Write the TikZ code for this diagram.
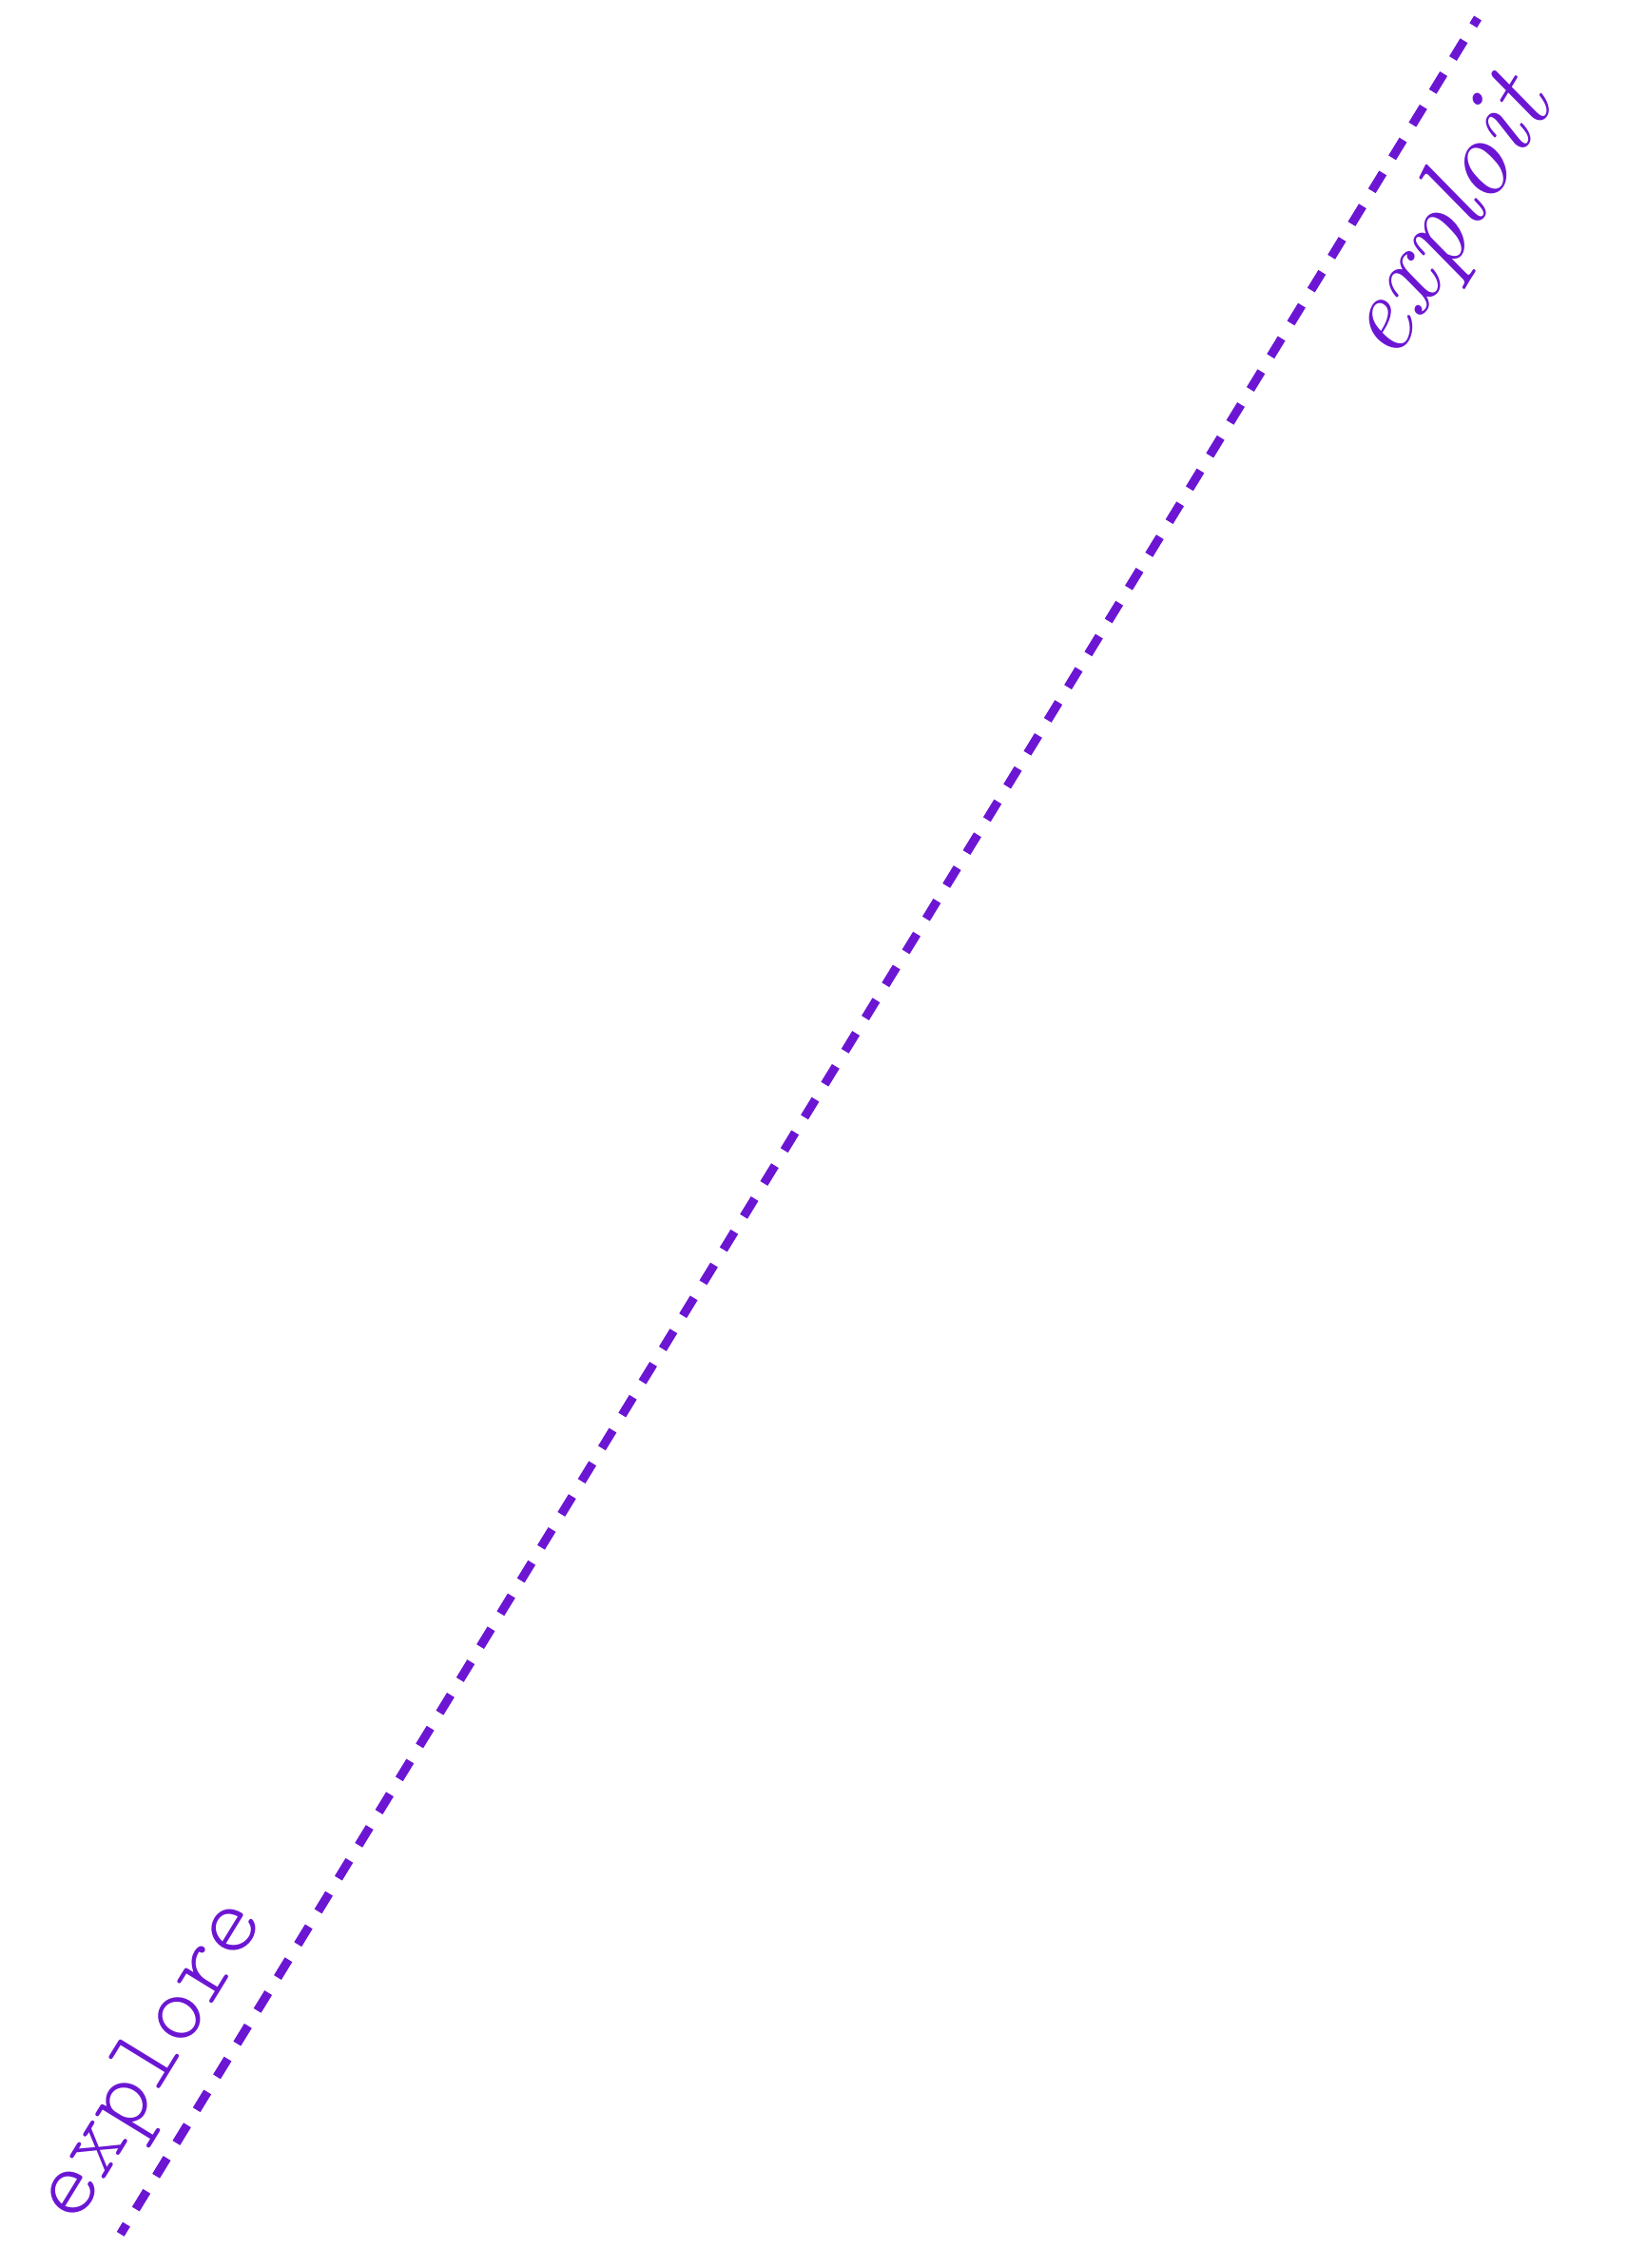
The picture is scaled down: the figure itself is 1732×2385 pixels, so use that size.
\documentclass[tikz,border=0pt]{standalone}
\definecolor{violetline}{RGB}{108,22,212}
\tikzset{
  dashline/.style={draw=violetline, line width=4.6pt, dash pattern=on 11pt off 9.4pt, dash phase=5pt, line cap=butt},
  monolabel/.style={text=violetline, inner sep=0pt, font=\fontsize{51.5}{60}\selectfont\ttfamily\fontseries{l}\selectfont},
  scriptlabel/.style={text=violetline, inner sep=0pt, font=\fontsize{58}{64}\selectfont\itshape}
}
\begin{document}
\begin{tikzpicture}[x=0.5pt, y=-0.5pt]
  \useasboundingbox (0,0) rectangle (1732,2385);
  \coordinate (lineStart) at (126.7,2349.3);
  \coordinate (lineEnd) at (1554,19);
  \draw[dashline] (lineStart) -- (lineEnd);
  \node[monolabel, rotate=58.5, anchor=base west] (explore) at (80,2341) {explore};
  \node[scriptlabel, rotate=58.5, anchor=center] (exploit) at (1525,231) {exploit};
\end{tikzpicture}
\end{document}
